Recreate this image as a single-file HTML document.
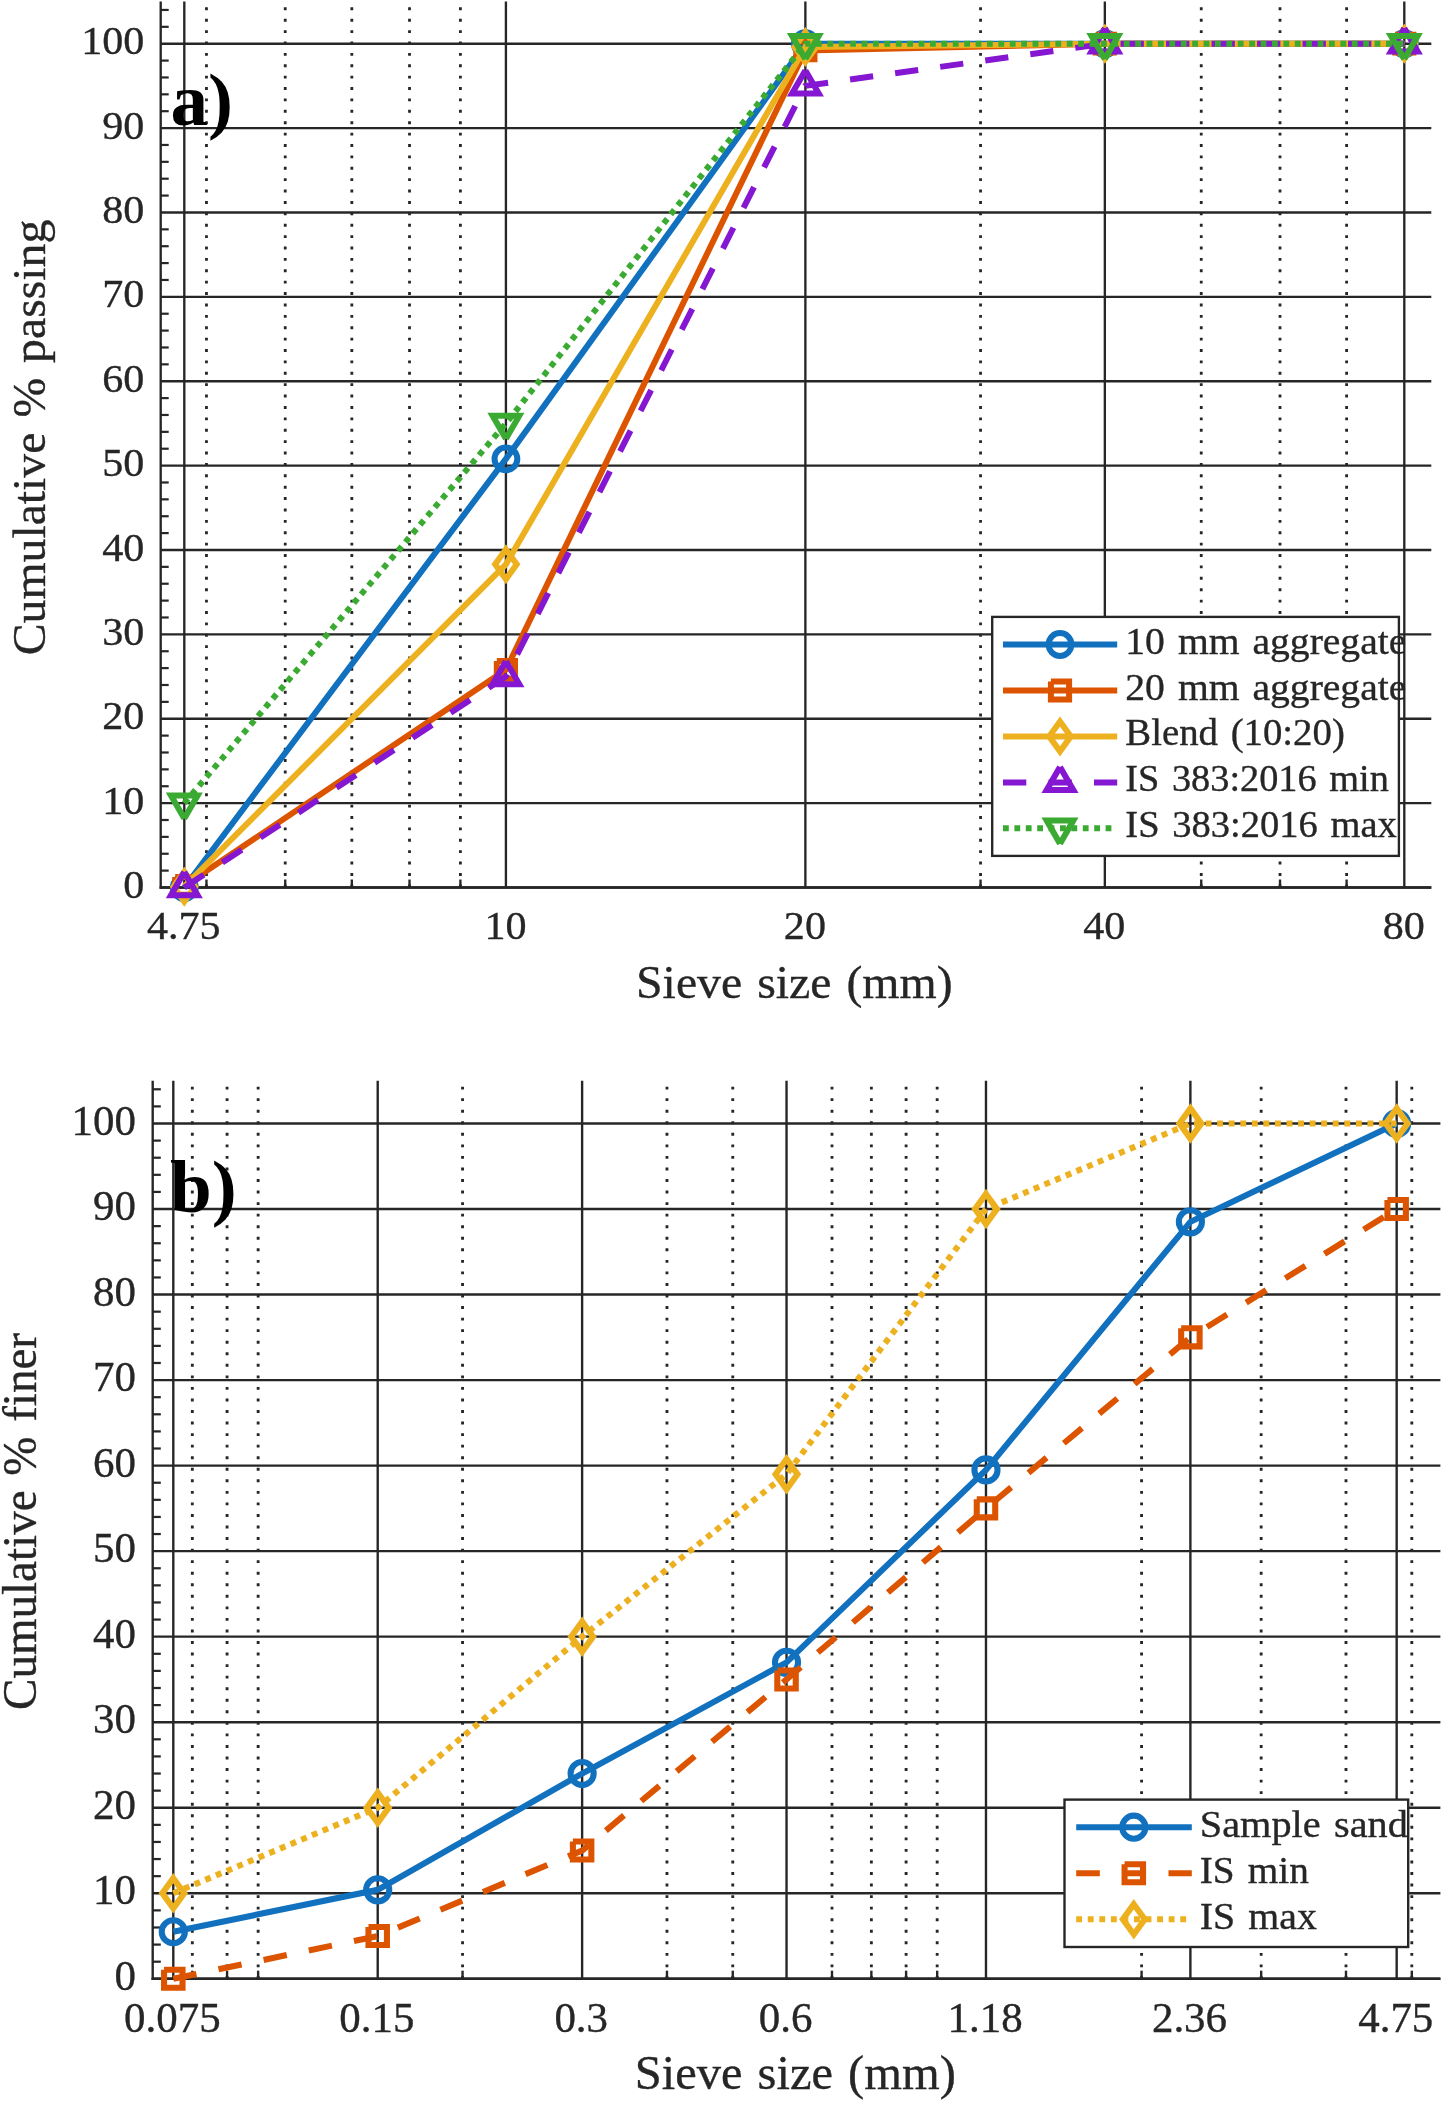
<!DOCTYPE html>
<html><head><meta charset="utf-8"><title>Sieve analysis</title>
<style>html,body{margin:0;padding:0;background:#fff;overflow:hidden}body{width:1441px;height:2102px}svg{display:block;will-change:transform}text{font-family:"Liberation Serif",serif;stroke:#262626;stroke-width:.35px;word-spacing:3px}.tg{stroke:none}</style></head><body>
<svg width="1441" height="2102" viewBox="0 0 1441 2102">
<rect width="1441" height="2102" fill="#fff"/>
<g id="a">
<g stroke="#262626" stroke-width="2.35" fill="none"><line x1="206.46" y1="7.35" x2="206.46" y2="887.5" stroke-width="2.8" stroke-dasharray="2.9 8.49"/><line x1="206.46" y1="879.5" x2="206.46" y2="887.5"/><line x1="285.23" y1="7.35" x2="285.23" y2="887.5" stroke-width="2.8" stroke-dasharray="2.9 8.49"/><line x1="285.23" y1="879.5" x2="285.23" y2="887.5"/><line x1="351.83" y1="7.35" x2="351.83" y2="887.5" stroke-width="2.8" stroke-dasharray="2.9 8.49"/><line x1="351.83" y1="879.5" x2="351.83" y2="887.5"/><line x1="409.52" y1="7.35" x2="409.52" y2="887.5" stroke-width="2.8" stroke-dasharray="2.9 8.49"/><line x1="409.52" y1="879.5" x2="409.52" y2="887.5"/><line x1="460.4" y1="7.35" x2="460.4" y2="887.5" stroke-width="2.8" stroke-dasharray="2.9 8.49"/><line x1="460.4" y1="879.5" x2="460.4" y2="887.5"/><line x1="980.55" y1="7.35" x2="980.55" y2="887.5" stroke-width="2.8" stroke-dasharray="2.9 8.49"/><line x1="980.55" y1="879.5" x2="980.55" y2="887.5"/><line x1="1201.24" y1="7.35" x2="1201.24" y2="887.5" stroke-width="2.8" stroke-dasharray="2.9 8.49"/><line x1="1201.24" y1="879.5" x2="1201.24" y2="887.5"/><line x1="1280.01" y1="7.35" x2="1280.01" y2="887.5" stroke-width="2.8" stroke-dasharray="2.9 8.49"/><line x1="1280.01" y1="879.5" x2="1280.01" y2="887.5"/><line x1="1346.61" y1="7.35" x2="1346.61" y2="887.5" stroke-width="2.8" stroke-dasharray="2.9 8.49"/><line x1="1346.61" y1="879.5" x2="1346.61" y2="887.5"/><line x1="184.3" y1="1.5" x2="184.3" y2="887.5"/><line x1="505.92" y1="1.5" x2="505.92" y2="887.5"/><line x1="805.38" y1="1.5" x2="805.38" y2="887.5"/><line x1="1104.84" y1="1.5" x2="1104.84" y2="887.5"/><line x1="1404.3" y1="1.5" x2="1404.3" y2="887.5"/><line x1="160.7" y1="887.5" x2="1431.3" y2="887.5"/><line x1="160.7" y1="803.12" x2="1431.3" y2="803.12"/><line x1="160.7" y1="718.74" x2="1431.3" y2="718.74"/><line x1="160.7" y1="634.36" x2="1431.3" y2="634.36"/><line x1="160.7" y1="549.98" x2="1431.3" y2="549.98"/><line x1="160.7" y1="465.6" x2="1431.3" y2="465.6"/><line x1="160.7" y1="381.22" x2="1431.3" y2="381.22"/><line x1="160.7" y1="296.84" x2="1431.3" y2="296.84"/><line x1="160.7" y1="212.46" x2="1431.3" y2="212.46"/><line x1="160.7" y1="128.08" x2="1431.3" y2="128.08"/><line x1="160.7" y1="43.7" x2="1431.3" y2="43.7"/><line x1="160.7" y1="870.62" x2="168.7" y2="870.62" stroke-width="2.2"/><line x1="160.7" y1="853.75" x2="168.7" y2="853.75" stroke-width="2.2"/><line x1="160.7" y1="836.87" x2="168.7" y2="836.87" stroke-width="2.2"/><line x1="160.7" y1="820" x2="168.7" y2="820" stroke-width="2.2"/><line x1="160.7" y1="786.24" x2="168.7" y2="786.24" stroke-width="2.2"/><line x1="160.7" y1="769.37" x2="168.7" y2="769.37" stroke-width="2.2"/><line x1="160.7" y1="752.49" x2="168.7" y2="752.49" stroke-width="2.2"/><line x1="160.7" y1="735.62" x2="168.7" y2="735.62" stroke-width="2.2"/><line x1="160.7" y1="701.86" x2="168.7" y2="701.86" stroke-width="2.2"/><line x1="160.7" y1="684.99" x2="168.7" y2="684.99" stroke-width="2.2"/><line x1="160.7" y1="668.11" x2="168.7" y2="668.11" stroke-width="2.2"/><line x1="160.7" y1="651.24" x2="168.7" y2="651.24" stroke-width="2.2"/><line x1="160.7" y1="617.48" x2="168.7" y2="617.48" stroke-width="2.2"/><line x1="160.7" y1="600.61" x2="168.7" y2="600.61" stroke-width="2.2"/><line x1="160.7" y1="583.73" x2="168.7" y2="583.73" stroke-width="2.2"/><line x1="160.7" y1="566.86" x2="168.7" y2="566.86" stroke-width="2.2"/><line x1="160.7" y1="533.1" x2="168.7" y2="533.1" stroke-width="2.2"/><line x1="160.7" y1="516.23" x2="168.7" y2="516.23" stroke-width="2.2"/><line x1="160.7" y1="499.35" x2="168.7" y2="499.35" stroke-width="2.2"/><line x1="160.7" y1="482.48" x2="168.7" y2="482.48" stroke-width="2.2"/><line x1="160.7" y1="448.72" x2="168.7" y2="448.72" stroke-width="2.2"/><line x1="160.7" y1="431.85" x2="168.7" y2="431.85" stroke-width="2.2"/><line x1="160.7" y1="414.97" x2="168.7" y2="414.97" stroke-width="2.2"/><line x1="160.7" y1="398.1" x2="168.7" y2="398.1" stroke-width="2.2"/><line x1="160.7" y1="364.34" x2="168.7" y2="364.34" stroke-width="2.2"/><line x1="160.7" y1="347.47" x2="168.7" y2="347.47" stroke-width="2.2"/><line x1="160.7" y1="330.59" x2="168.7" y2="330.59" stroke-width="2.2"/><line x1="160.7" y1="313.72" x2="168.7" y2="313.72" stroke-width="2.2"/><line x1="160.7" y1="279.96" x2="168.7" y2="279.96" stroke-width="2.2"/><line x1="160.7" y1="263.09" x2="168.7" y2="263.09" stroke-width="2.2"/><line x1="160.7" y1="246.21" x2="168.7" y2="246.21" stroke-width="2.2"/><line x1="160.7" y1="229.34" x2="168.7" y2="229.34" stroke-width="2.2"/><line x1="160.7" y1="195.58" x2="168.7" y2="195.58" stroke-width="2.2"/><line x1="160.7" y1="178.71" x2="168.7" y2="178.71" stroke-width="2.2"/><line x1="160.7" y1="161.83" x2="168.7" y2="161.83" stroke-width="2.2"/><line x1="160.7" y1="144.96" x2="168.7" y2="144.96" stroke-width="2.2"/><line x1="160.7" y1="111.2" x2="168.7" y2="111.2" stroke-width="2.2"/><line x1="160.7" y1="94.33" x2="168.7" y2="94.33" stroke-width="2.2"/><line x1="160.7" y1="77.45" x2="168.7" y2="77.45" stroke-width="2.2"/><line x1="160.7" y1="60.58" x2="168.7" y2="60.58" stroke-width="2.2"/><line x1="160.7" y1="26.82" x2="168.7" y2="26.82" stroke-width="2.2"/><line x1="160.7" y1="9.95" x2="168.7" y2="9.95" stroke-width="2.2"/><line x1="160.7" y1="1.5" x2="160.7" y2="888.67"/><line x1="159.52" y1="887.5" x2="1431.3" y2="887.5"/></g>
<polyline points="184.3,887.5 505.92,458.85 805.38,43.7 1104.84,43.7 1404.3,43.7" fill="none" stroke="#1171BE" stroke-width="6" stroke-linejoin="miter"/>
<circle cx="184.3" cy="887.5" r="11.4" fill="none" stroke="#1171BE" stroke-width="6"/>
<circle cx="505.92" cy="458.85" r="11.4" fill="none" stroke="#1171BE" stroke-width="6"/>
<circle cx="805.38" cy="43.7" r="11.4" fill="none" stroke="#1171BE" stroke-width="6"/>
<circle cx="1104.84" cy="43.7" r="11.4" fill="none" stroke="#1171BE" stroke-width="6"/>
<circle cx="1404.3" cy="43.7" r="11.4" fill="none" stroke="#1171BE" stroke-width="6"/>
<polyline points="184.3,885.81 505.92,669.8 805.38,50.45 1104.84,43.7 1404.3,43.7" fill="none" stroke="#DD5400" stroke-width="6" stroke-linejoin="miter"/>
<path d="M175.2 876.91 H193.4 V894.71 H175.2 V876.91" fill="none" stroke="#DD5400" stroke-width="6" stroke-linejoin="miter"/>
<path d="M496.82 660.9 H515.02 V678.7 H496.82 V660.9" fill="none" stroke="#DD5400" stroke-width="6" stroke-linejoin="miter"/>
<path d="M796.28 41.55 H814.48 V59.35 H796.28 V41.55" fill="none" stroke="#DD5400" stroke-width="6" stroke-linejoin="miter"/>
<path d="M1095.74 34.8 H1113.94 V52.6 H1095.74 V34.8" fill="none" stroke="#DD5400" stroke-width="6" stroke-linejoin="miter"/>
<path d="M1395.2 34.8 H1413.4 V52.6 H1395.2 V34.8" fill="none" stroke="#DD5400" stroke-width="6" stroke-linejoin="miter"/>
<polyline points="184.3,886.66 505.92,564.32 805.38,47.08 1104.84,43.7 1404.3,43.7" fill="none" stroke="#EDB120" stroke-width="6" stroke-linejoin="miter"/>
<polygon points="184.3,871.76 195.1,886.66 184.3,901.56 173.5,886.66" fill="none" stroke="#EDB120" stroke-width="6" stroke-linejoin="miter" stroke-miterlimit="10"/>
<polygon points="505.92,549.42 516.72,564.32 505.92,579.22 495.12,564.32" fill="none" stroke="#EDB120" stroke-width="6" stroke-linejoin="miter" stroke-miterlimit="10"/>
<polygon points="805.38,32.18 816.18,47.08 805.38,61.98 794.58,47.08" fill="none" stroke="#EDB120" stroke-width="6" stroke-linejoin="miter" stroke-miterlimit="10"/>
<polygon points="1104.84,28.8 1115.64,43.7 1104.84,58.6 1094.04,43.7" fill="none" stroke="#EDB120" stroke-width="6" stroke-linejoin="miter" stroke-miterlimit="10"/>
<polygon points="1404.3,28.8 1415.1,43.7 1404.3,58.6 1393.5,43.7" fill="none" stroke="#EDB120" stroke-width="6" stroke-linejoin="miter" stroke-miterlimit="10"/>
<polyline points="184.3,887.5 505.92,676.55 805.38,85.89 1104.84,43.7 1404.3,43.7" fill="none" stroke="#8516D1" stroke-width="6" stroke-linejoin="miter" stroke-dasharray="23.3 22.2"/>
<path d="M184.3 872.1 L197.64 895.2 L170.96 895.2 L184.3 872.1" fill="none" stroke="#8516D1" stroke-width="6" stroke-linejoin="miter" stroke-miterlimit="4"/>
<path d="M505.92 661.15 L519.26 684.25 L492.58 684.25 L505.92 661.15" fill="none" stroke="#8516D1" stroke-width="6" stroke-linejoin="miter" stroke-miterlimit="4"/>
<path d="M805.38 70.49 L818.72 93.59 L792.04 93.59 L805.38 70.49" fill="none" stroke="#8516D1" stroke-width="6" stroke-linejoin="miter" stroke-miterlimit="4"/>
<path d="M1104.84 28.3 L1118.18 51.4 L1091.5 51.4 L1104.84 28.3" fill="none" stroke="#8516D1" stroke-width="6" stroke-linejoin="miter" stroke-miterlimit="4"/>
<path d="M1404.3 28.3 L1417.64 51.4 L1390.96 51.4 L1404.3 28.3" fill="none" stroke="#8516D1" stroke-width="6" stroke-linejoin="miter" stroke-miterlimit="4"/>
<polyline points="184.3,803.12 505.92,423.41 805.38,43.7 1104.84,43.7 1404.3,43.7" fill="none" stroke="#3BAA32" stroke-width="6" stroke-linejoin="miter" stroke-dasharray="5.8 5.6"/>
<path d="M184.3 818.52 L197.64 795.42 L170.96 795.42 L184.3 818.52" fill="none" stroke="#3BAA32" stroke-width="6" stroke-linejoin="miter" stroke-miterlimit="4"/>
<path d="M505.92 438.81 L519.26 415.71 L492.58 415.71 L505.92 438.81" fill="none" stroke="#3BAA32" stroke-width="6" stroke-linejoin="miter" stroke-miterlimit="4"/>
<path d="M805.38 59.1 L818.72 36 L792.04 36 L805.38 59.1" fill="none" stroke="#3BAA32" stroke-width="6" stroke-linejoin="miter" stroke-miterlimit="4"/>
<path d="M1104.84 59.1 L1118.18 36 L1091.5 36 L1104.84 59.1" fill="none" stroke="#3BAA32" stroke-width="6" stroke-linejoin="miter" stroke-miterlimit="4"/>
<path d="M1404.3 59.1 L1417.64 36 L1390.96 36 L1404.3 59.1" fill="none" stroke="#3BAA32" stroke-width="6" stroke-linejoin="miter" stroke-miterlimit="4"/>
<text transform="translate(144.3 898.1) scale(1.04 1)" font-size="40.5" text-anchor="end" font-weight="normal" fill="#262626">0</text>
<text transform="translate(144.3 813.72) scale(1.04 1)" font-size="40.5" text-anchor="end" font-weight="normal" fill="#262626">10</text>
<text transform="translate(144.3 729.34) scale(1.04 1)" font-size="40.5" text-anchor="end" font-weight="normal" fill="#262626">20</text>
<text transform="translate(144.3 644.96) scale(1.04 1)" font-size="40.5" text-anchor="end" font-weight="normal" fill="#262626">30</text>
<text transform="translate(144.3 560.58) scale(1.04 1)" font-size="40.5" text-anchor="end" font-weight="normal" fill="#262626">40</text>
<text transform="translate(144.3 476.2) scale(1.04 1)" font-size="40.5" text-anchor="end" font-weight="normal" fill="#262626">50</text>
<text transform="translate(144.3 391.82) scale(1.04 1)" font-size="40.5" text-anchor="end" font-weight="normal" fill="#262626">60</text>
<text transform="translate(144.3 307.44) scale(1.04 1)" font-size="40.5" text-anchor="end" font-weight="normal" fill="#262626">70</text>
<text transform="translate(144.3 223.06) scale(1.04 1)" font-size="40.5" text-anchor="end" font-weight="normal" fill="#262626">80</text>
<text transform="translate(144.3 138.68) scale(1.04 1)" font-size="40.5" text-anchor="end" font-weight="normal" fill="#262626">90</text>
<text transform="translate(144.3 54.3) scale(1.04 1)" font-size="40.5" text-anchor="end" font-weight="normal" fill="#262626">100</text>
<text transform="translate(183.8 938.8) scale(1.04 1)" font-size="40.5" text-anchor="middle" font-weight="normal" fill="#262626">4.75</text>
<text transform="translate(505.42 938.8) scale(1.04 1)" font-size="40.5" text-anchor="middle" font-weight="normal" fill="#262626">10</text>
<text transform="translate(804.88 938.8) scale(1.04 1)" font-size="40.5" text-anchor="middle" font-weight="normal" fill="#262626">20</text>
<text transform="translate(1104.34 938.8) scale(1.04 1)" font-size="40.5" text-anchor="middle" font-weight="normal" fill="#262626">40</text>
<text transform="translate(1403.8 938.8) scale(1.04 1)" font-size="40.5" text-anchor="middle" font-weight="normal" fill="#262626">80</text>
<text x="794.3" y="997.5" font-size="47" text-anchor="middle" font-weight="normal" fill="#262626" textLength="316.5" lengthAdjust="spacingAndGlyphs">Sieve size (mm)</text>
<g transform="translate(45.3 437.5) rotate(-90)"><text x="0" y="0" font-size="47" text-anchor="middle" font-weight="normal" fill="#262626" textLength="435.5" lengthAdjust="spacingAndGlyphs">Cumulative % passing</text></g>
<text x="170.5" y="124.5" font-size="75" text-anchor="start" font-weight="bold" fill="#000" class="tg">a)</text>
<rect x="992.2" y="616.9" width="406.7" height="239" fill="#fff" stroke="#262626" stroke-width="2.35"/>
<line x1="1003" y1="644.5" x2="1117.2" y2="644.5" stroke="#1171BE" stroke-width="6"/>
<circle cx="1060" cy="644.5" r="11.4" fill="none" stroke="#1171BE" stroke-width="6"/>
<text x="1125.3" y="653.8" font-size="38" text-anchor="start" font-weight="normal" fill="#262626" textLength="281" lengthAdjust="spacingAndGlyphs">10 mm aggregate</text>
<line x1="1003" y1="690.5" x2="1117.2" y2="690.5" stroke="#DD5400" stroke-width="6"/>
<path d="M1050.9 681.6 H1069.1 V699.4 H1050.9 V681.6" fill="none" stroke="#DD5400" stroke-width="6" stroke-linejoin="miter"/>
<text x="1125.3" y="699.5" font-size="38" text-anchor="start" font-weight="normal" fill="#262626" textLength="281" lengthAdjust="spacingAndGlyphs">20 mm aggregate</text>
<line x1="1003" y1="736.4" x2="1117.2" y2="736.4" stroke="#EDB120" stroke-width="6"/>
<polygon points="1060,721.5 1070.8,736.4 1060,751.3 1049.2,736.4" fill="none" stroke="#EDB120" stroke-width="6" stroke-linejoin="miter" stroke-miterlimit="10"/>
<text x="1125.3" y="745.3" font-size="38" text-anchor="start" font-weight="normal" fill="#262626" textLength="219.5" lengthAdjust="spacingAndGlyphs">Blend (10:20)</text>
<line x1="1003" y1="782.4" x2="1117.2" y2="782.4" stroke="#8516D1" stroke-width="6" stroke-dasharray="23.3 22.2"/>
<path d="M1060 767 L1073.34 790.1 L1046.66 790.1 L1060 767" fill="none" stroke="#8516D1" stroke-width="6" stroke-linejoin="miter" stroke-miterlimit="4"/>
<text x="1125.3" y="791" font-size="38" text-anchor="start" font-weight="normal" fill="#262626" textLength="263.5" lengthAdjust="spacingAndGlyphs">IS 383:2016 min</text>
<line x1="1003" y1="828.3" x2="1115.2" y2="828.3" stroke="#3BAA32" stroke-width="6" stroke-dasharray="5.8 5.6"/>
<path d="M1060 843.7 L1073.34 820.6 L1046.66 820.6 L1060 843.7" fill="none" stroke="#3BAA32" stroke-width="6" stroke-linejoin="miter" stroke-miterlimit="4"/>
<text x="1125.3" y="836.7" font-size="38" text-anchor="start" font-weight="normal" fill="#262626" textLength="271.5" lengthAdjust="spacingAndGlyphs">IS 383:2016 max</text>
</g>
<g id="b">
<g stroke="#262626" stroke-width="2.38" fill="none"><line x1="192.33" y1="1086.63" x2="192.33" y2="1978.8" stroke-width="2.84" stroke-dasharray="2.94 8.61"/><line x1="192.33" y1="1970.69" x2="192.33" y2="1978.8"/><line x1="227.07" y1="1086.63" x2="227.07" y2="1978.8" stroke-width="2.84" stroke-dasharray="2.94 8.61"/><line x1="227.07" y1="1970.69" x2="227.07" y2="1978.8"/><line x1="258.14" y1="1086.63" x2="258.14" y2="1978.8" stroke-width="2.84" stroke-dasharray="2.94 8.61"/><line x1="258.14" y1="1970.69" x2="258.14" y2="1978.8"/><line x1="462.55" y1="1086.63" x2="462.55" y2="1978.8" stroke-width="2.84" stroke-dasharray="2.94 8.61"/><line x1="462.55" y1="1970.69" x2="462.55" y2="1978.8"/><line x1="666.96" y1="1086.63" x2="666.96" y2="1978.8" stroke-width="2.84" stroke-dasharray="2.94 8.61"/><line x1="666.96" y1="1970.69" x2="666.96" y2="1978.8"/><line x1="732.76" y1="1086.63" x2="732.76" y2="1978.8" stroke-width="2.84" stroke-dasharray="2.94 8.61"/><line x1="732.76" y1="1970.69" x2="732.76" y2="1978.8"/><line x1="831.99" y1="1086.63" x2="831.99" y2="1978.8" stroke-width="2.84" stroke-dasharray="2.94 8.61"/><line x1="831.99" y1="1970.69" x2="831.99" y2="1978.8"/><line x1="871.37" y1="1086.63" x2="871.37" y2="1978.8" stroke-width="2.84" stroke-dasharray="2.94 8.61"/><line x1="871.37" y1="1970.69" x2="871.37" y2="1978.8"/><line x1="906.1" y1="1086.63" x2="906.1" y2="1978.8" stroke-width="2.84" stroke-dasharray="2.94 8.61"/><line x1="906.1" y1="1970.69" x2="906.1" y2="1978.8"/><line x1="937.17" y1="1086.63" x2="937.17" y2="1978.8" stroke-width="2.84" stroke-dasharray="2.94 8.61"/><line x1="937.17" y1="1970.69" x2="937.17" y2="1978.8"/><line x1="1141.58" y1="1086.63" x2="1141.58" y2="1978.8" stroke-width="2.84" stroke-dasharray="2.94 8.61"/><line x1="1141.58" y1="1970.69" x2="1141.58" y2="1978.8"/><line x1="1261.16" y1="1086.63" x2="1261.16" y2="1978.8" stroke-width="2.84" stroke-dasharray="2.94 8.61"/><line x1="1261.16" y1="1970.69" x2="1261.16" y2="1978.8"/><line x1="1345.99" y1="1086.63" x2="1345.99" y2="1978.8" stroke-width="2.84" stroke-dasharray="2.94 8.61"/><line x1="1345.99" y1="1970.69" x2="1345.99" y2="1978.8"/><line x1="1411.8" y1="1086.63" x2="1411.8" y2="1978.8" stroke-width="2.84" stroke-dasharray="2.94 8.61"/><line x1="1411.8" y1="1970.69" x2="1411.8" y2="1978.8"/><line x1="173.3" y1="1080.7" x2="173.3" y2="1978.8"/><line x1="377.71" y1="1080.7" x2="377.71" y2="1978.8"/><line x1="582.12" y1="1080.7" x2="582.12" y2="1978.8"/><line x1="786.53" y1="1080.7" x2="786.53" y2="1978.8"/><line x1="985.98" y1="1080.7" x2="985.98" y2="1978.8"/><line x1="1190.39" y1="1080.7" x2="1190.39" y2="1978.8"/><line x1="1396.67" y1="1080.7" x2="1396.67" y2="1978.8"/><line x1="152.7" y1="1978.8" x2="1440.4" y2="1978.8"/><line x1="152.7" y1="1893.27" x2="1440.4" y2="1893.27"/><line x1="152.7" y1="1807.74" x2="1440.4" y2="1807.74"/><line x1="152.7" y1="1722.21" x2="1440.4" y2="1722.21"/><line x1="152.7" y1="1636.68" x2="1440.4" y2="1636.68"/><line x1="152.7" y1="1551.15" x2="1440.4" y2="1551.15"/><line x1="152.7" y1="1465.62" x2="1440.4" y2="1465.62"/><line x1="152.7" y1="1380.09" x2="1440.4" y2="1380.09"/><line x1="152.7" y1="1294.56" x2="1440.4" y2="1294.56"/><line x1="152.7" y1="1209.03" x2="1440.4" y2="1209.03"/><line x1="152.7" y1="1123.5" x2="1440.4" y2="1123.5"/><line x1="152.7" y1="1961.69" x2="160.81" y2="1961.69" stroke-width="2.23"/><line x1="152.7" y1="1944.59" x2="160.81" y2="1944.59" stroke-width="2.23"/><line x1="152.7" y1="1927.48" x2="160.81" y2="1927.48" stroke-width="2.23"/><line x1="152.7" y1="1910.38" x2="160.81" y2="1910.38" stroke-width="2.23"/><line x1="152.7" y1="1876.16" x2="160.81" y2="1876.16" stroke-width="2.23"/><line x1="152.7" y1="1859.06" x2="160.81" y2="1859.06" stroke-width="2.23"/><line x1="152.7" y1="1841.95" x2="160.81" y2="1841.95" stroke-width="2.23"/><line x1="152.7" y1="1824.85" x2="160.81" y2="1824.85" stroke-width="2.23"/><line x1="152.7" y1="1790.63" x2="160.81" y2="1790.63" stroke-width="2.23"/><line x1="152.7" y1="1773.53" x2="160.81" y2="1773.53" stroke-width="2.23"/><line x1="152.7" y1="1756.42" x2="160.81" y2="1756.42" stroke-width="2.23"/><line x1="152.7" y1="1739.32" x2="160.81" y2="1739.32" stroke-width="2.23"/><line x1="152.7" y1="1705.1" x2="160.81" y2="1705.1" stroke-width="2.23"/><line x1="152.7" y1="1688" x2="160.81" y2="1688" stroke-width="2.23"/><line x1="152.7" y1="1670.89" x2="160.81" y2="1670.89" stroke-width="2.23"/><line x1="152.7" y1="1653.79" x2="160.81" y2="1653.79" stroke-width="2.23"/><line x1="152.7" y1="1619.57" x2="160.81" y2="1619.57" stroke-width="2.23"/><line x1="152.7" y1="1602.47" x2="160.81" y2="1602.47" stroke-width="2.23"/><line x1="152.7" y1="1585.36" x2="160.81" y2="1585.36" stroke-width="2.23"/><line x1="152.7" y1="1568.26" x2="160.81" y2="1568.26" stroke-width="2.23"/><line x1="152.7" y1="1534.04" x2="160.81" y2="1534.04" stroke-width="2.23"/><line x1="152.7" y1="1516.94" x2="160.81" y2="1516.94" stroke-width="2.23"/><line x1="152.7" y1="1499.83" x2="160.81" y2="1499.83" stroke-width="2.23"/><line x1="152.7" y1="1482.73" x2="160.81" y2="1482.73" stroke-width="2.23"/><line x1="152.7" y1="1448.51" x2="160.81" y2="1448.51" stroke-width="2.23"/><line x1="152.7" y1="1431.41" x2="160.81" y2="1431.41" stroke-width="2.23"/><line x1="152.7" y1="1414.3" x2="160.81" y2="1414.3" stroke-width="2.23"/><line x1="152.7" y1="1397.2" x2="160.81" y2="1397.2" stroke-width="2.23"/><line x1="152.7" y1="1362.98" x2="160.81" y2="1362.98" stroke-width="2.23"/><line x1="152.7" y1="1345.88" x2="160.81" y2="1345.88" stroke-width="2.23"/><line x1="152.7" y1="1328.77" x2="160.81" y2="1328.77" stroke-width="2.23"/><line x1="152.7" y1="1311.67" x2="160.81" y2="1311.67" stroke-width="2.23"/><line x1="152.7" y1="1277.45" x2="160.81" y2="1277.45" stroke-width="2.23"/><line x1="152.7" y1="1260.35" x2="160.81" y2="1260.35" stroke-width="2.23"/><line x1="152.7" y1="1243.24" x2="160.81" y2="1243.24" stroke-width="2.23"/><line x1="152.7" y1="1226.14" x2="160.81" y2="1226.14" stroke-width="2.23"/><line x1="152.7" y1="1191.92" x2="160.81" y2="1191.92" stroke-width="2.23"/><line x1="152.7" y1="1174.82" x2="160.81" y2="1174.82" stroke-width="2.23"/><line x1="152.7" y1="1157.71" x2="160.81" y2="1157.71" stroke-width="2.23"/><line x1="152.7" y1="1140.61" x2="160.81" y2="1140.61" stroke-width="2.23"/><line x1="152.7" y1="1106.39" x2="160.81" y2="1106.39" stroke-width="2.23"/><line x1="152.7" y1="1089.29" x2="160.81" y2="1089.29" stroke-width="2.23"/><line x1="152.7" y1="1080.7" x2="152.7" y2="1979.99"/><line x1="151.51" y1="1978.8" x2="1440.4" y2="1978.8"/></g>
<polyline points="173.3,1931.76 377.71,1889.85 582.12,1773.53 786.53,1662.34 985.98,1469.9 1190.39,1221.86 1396.67,1123.5" fill="none" stroke="#1171BE" stroke-width="6.08" stroke-linejoin="miter"/>
<circle cx="173.3" cy="1931.76" r="11.56" fill="none" stroke="#1171BE" stroke-width="6.08"/>
<circle cx="377.71" cy="1889.85" r="11.56" fill="none" stroke="#1171BE" stroke-width="6.08"/>
<circle cx="582.12" cy="1773.53" r="11.56" fill="none" stroke="#1171BE" stroke-width="6.08"/>
<circle cx="786.53" cy="1662.34" r="11.56" fill="none" stroke="#1171BE" stroke-width="6.08"/>
<circle cx="985.98" cy="1469.9" r="11.56" fill="none" stroke="#1171BE" stroke-width="6.08"/>
<circle cx="1190.39" cy="1221.86" r="11.56" fill="none" stroke="#1171BE" stroke-width="6.08"/>
<circle cx="1396.67" cy="1123.5" r="11.56" fill="none" stroke="#1171BE" stroke-width="6.08"/>
<polyline points="173.3,1978.8 377.71,1936.03 582.12,1850.5 786.53,1679.44 985.98,1508.38 1190.39,1337.32 1396.67,1209.03" fill="none" stroke="#DD5400" stroke-width="6.08" stroke-linejoin="miter" stroke-dasharray="23.63 22.51"/>
<path d="M164.07 1969.78 H182.53 V1987.82 H164.07 V1969.78" fill="none" stroke="#DD5400" stroke-width="6.08" stroke-linejoin="miter"/>
<path d="M368.48 1927.01 H386.94 V1945.06 H368.48 V1927.01" fill="none" stroke="#DD5400" stroke-width="6.08" stroke-linejoin="miter"/>
<path d="M572.89 1841.48 H591.35 V1859.53 H572.89 V1841.48" fill="none" stroke="#DD5400" stroke-width="6.08" stroke-linejoin="miter"/>
<path d="M777.3 1670.42 H795.76 V1688.47 H777.3 V1670.42" fill="none" stroke="#DD5400" stroke-width="6.08" stroke-linejoin="miter"/>
<path d="M976.76 1499.36 H995.21 V1517.41 H976.76 V1499.36" fill="none" stroke="#DD5400" stroke-width="6.08" stroke-linejoin="miter"/>
<path d="M1181.17 1328.3 H1199.62 V1346.35 H1181.17 V1328.3" fill="none" stroke="#DD5400" stroke-width="6.08" stroke-linejoin="miter"/>
<path d="M1387.44 1200.01 H1405.9 V1218.05 H1387.44 V1200.01" fill="none" stroke="#DD5400" stroke-width="6.08" stroke-linejoin="miter"/>
<polyline points="173.3,1893.27 377.71,1807.74 582.12,1636.68 786.53,1474.17 985.98,1209.03 1190.39,1123.5 1396.67,1123.5" fill="none" stroke="#EDB120" stroke-width="6.08" stroke-linejoin="miter" stroke-dasharray="5.88 5.68"/>
<polygon points="173.3,1878.16 184.25,1893.27 173.3,1908.38 162.35,1893.27" fill="none" stroke="#EDB120" stroke-width="6.08" stroke-linejoin="miter" stroke-miterlimit="10"/>
<polygon points="377.71,1792.63 388.66,1807.74 377.71,1822.85 366.76,1807.74" fill="none" stroke="#EDB120" stroke-width="6.08" stroke-linejoin="miter" stroke-miterlimit="10"/>
<polygon points="582.12,1621.57 593.07,1636.68 582.12,1651.79 571.17,1636.68" fill="none" stroke="#EDB120" stroke-width="6.08" stroke-linejoin="miter" stroke-miterlimit="10"/>
<polygon points="786.53,1459.06 797.48,1474.17 786.53,1489.28 775.58,1474.17" fill="none" stroke="#EDB120" stroke-width="6.08" stroke-linejoin="miter" stroke-miterlimit="10"/>
<polygon points="985.98,1193.92 996.93,1209.03 985.98,1224.14 975.03,1209.03" fill="none" stroke="#EDB120" stroke-width="6.08" stroke-linejoin="miter" stroke-miterlimit="10"/>
<polygon points="1190.39,1108.39 1201.34,1123.5 1190.39,1138.61 1179.44,1123.5" fill="none" stroke="#EDB120" stroke-width="6.08" stroke-linejoin="miter" stroke-miterlimit="10"/>
<polygon points="1396.67,1108.39 1407.62,1123.5 1396.67,1138.61 1385.72,1123.5" fill="none" stroke="#EDB120" stroke-width="6.08" stroke-linejoin="miter" stroke-miterlimit="10"/>
<text transform="translate(136 1989.8) scale(1.04 1)" font-size="41.3" text-anchor="end" font-weight="normal" fill="#262626">0</text>
<text transform="translate(136 1904.27) scale(1.04 1)" font-size="41.3" text-anchor="end" font-weight="normal" fill="#262626">10</text>
<text transform="translate(136 1818.74) scale(1.04 1)" font-size="41.3" text-anchor="end" font-weight="normal" fill="#262626">20</text>
<text transform="translate(136 1733.21) scale(1.04 1)" font-size="41.3" text-anchor="end" font-weight="normal" fill="#262626">30</text>
<text transform="translate(136 1647.68) scale(1.04 1)" font-size="41.3" text-anchor="end" font-weight="normal" fill="#262626">40</text>
<text transform="translate(136 1562.15) scale(1.04 1)" font-size="41.3" text-anchor="end" font-weight="normal" fill="#262626">50</text>
<text transform="translate(136 1476.62) scale(1.04 1)" font-size="41.3" text-anchor="end" font-weight="normal" fill="#262626">60</text>
<text transform="translate(136 1391.09) scale(1.04 1)" font-size="41.3" text-anchor="end" font-weight="normal" fill="#262626">70</text>
<text transform="translate(136 1305.56) scale(1.04 1)" font-size="41.3" text-anchor="end" font-weight="normal" fill="#262626">80</text>
<text transform="translate(136 1220.03) scale(1.04 1)" font-size="41.3" text-anchor="end" font-weight="normal" fill="#262626">90</text>
<text transform="translate(136 1134.5) scale(1.04 1)" font-size="41.3" text-anchor="end" font-weight="normal" fill="#262626">100</text>
<text transform="translate(172.4 2031.7) scale(1.04 1)" font-size="41.3" text-anchor="middle" font-weight="normal" fill="#262626">0.075</text>
<text transform="translate(376.81 2031.7) scale(1.04 1)" font-size="41.3" text-anchor="middle" font-weight="normal" fill="#262626">0.15</text>
<text transform="translate(581.22 2031.7) scale(1.04 1)" font-size="41.3" text-anchor="middle" font-weight="normal" fill="#262626">0.3</text>
<text transform="translate(785.63 2031.7) scale(1.04 1)" font-size="41.3" text-anchor="middle" font-weight="normal" fill="#262626">0.6</text>
<text transform="translate(985.08 2031.7) scale(1.04 1)" font-size="41.3" text-anchor="middle" font-weight="normal" fill="#262626">1.18</text>
<text transform="translate(1189.49 2031.7) scale(1.04 1)" font-size="41.3" text-anchor="middle" font-weight="normal" fill="#262626">2.36</text>
<text transform="translate(1395.77 2031.7) scale(1.04 1)" font-size="41.3" text-anchor="middle" font-weight="normal" fill="#262626">4.75</text>
<text x="795.3" y="2089.4" font-size="47.7" text-anchor="middle" font-weight="normal" fill="#262626" textLength="321" lengthAdjust="spacingAndGlyphs">Sieve size (mm)</text>
<g transform="translate(35.6 1521.5) rotate(-90)"><text x="0" y="0" font-size="47.7" text-anchor="middle" font-weight="normal" fill="#262626" textLength="377" lengthAdjust="spacingAndGlyphs">Cumulative % finer</text></g>
<text x="170" y="1211.6" font-size="75" text-anchor="start" font-weight="bold" fill="#000" class="tg">b)</text>
<rect x="1064.5" y="1799.6" width="343.7" height="147.4" fill="#fff" stroke="#262626" stroke-width="2.38"/>
<line x1="1076.2" y1="1827.2" x2="1191.8" y2="1827.2" stroke="#1171BE" stroke-width="6.08"/>
<circle cx="1133.8" cy="1827.2" r="11.56" fill="none" stroke="#1171BE" stroke-width="6.08"/>
<text x="1199.8" y="1837" font-size="37" text-anchor="start" font-weight="normal" fill="#262626" textLength="208" lengthAdjust="spacingAndGlyphs">Sample sand</text>
<line x1="1076.2" y1="1873.3" x2="1191.8" y2="1873.3" stroke="#DD5400" stroke-width="6.08" stroke-dasharray="23.63 22.51"/>
<path d="M1124.57 1864.28 H1143.03 V1882.32 H1124.57 V1864.28" fill="none" stroke="#DD5400" stroke-width="6.08" stroke-linejoin="miter"/>
<text x="1199.8" y="1882.9" font-size="37" text-anchor="start" font-weight="normal" fill="#262626" textLength="109" lengthAdjust="spacingAndGlyphs">IS min</text>
<line x1="1076.2" y1="1919.3" x2="1189.8" y2="1919.3" stroke="#EDB120" stroke-width="6.08" stroke-dasharray="5.88 5.68"/>
<polygon points="1133.8,1904.19 1144.75,1919.3 1133.8,1934.41 1122.85,1919.3" fill="none" stroke="#EDB120" stroke-width="6.08" stroke-linejoin="miter" stroke-miterlimit="10"/>
<text x="1199.8" y="1928.8" font-size="37" text-anchor="start" font-weight="normal" fill="#262626" textLength="117" lengthAdjust="spacingAndGlyphs">IS max</text>
</g>
</svg></body></html>
